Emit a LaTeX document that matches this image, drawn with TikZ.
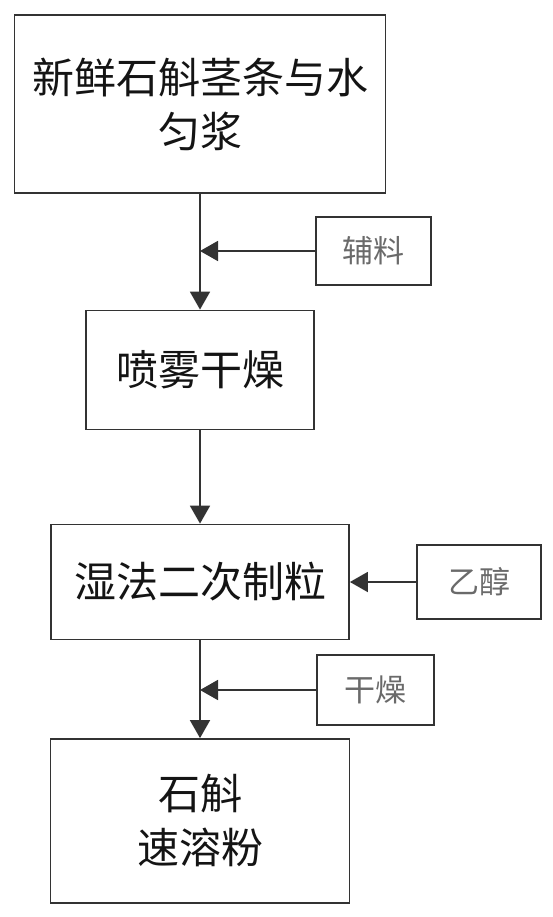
\documentclass[tikz,border=0pt]{standalone}
\usepackage{fontspec}
\newfontfamily\cjk{Noto Sans CJK SC}
\usetikzlibrary{arrows.meta}
\definecolor{lineC}{HTML}{333333}
\definecolor{mainT}{HTML}{141414}
\definecolor{sideT}{HTML}{6A6A6A}
\tikzset{
  mainbox/.style={draw=lineC, line width=1.8pt, rectangle, inner sep=0pt, align=center,
    text=mainT, font=\cjk\fontsize{42}{54}\selectfont},
  sidebox/.style={draw=lineC, line width=1.8pt, rectangle, inner sep=0pt, align=center,
    text=sideT, font=\cjk\fontsize{31}{34}\selectfont},
  flow/.style={draw=lineC, line width=1.8pt, -{Triangle[length=18pt,width=20pt]}}
}
\begin{document}
\begin{tikzpicture}[x=1pt,y=-1pt]
\useasboundingbox (0,0) rectangle (553,917);
\fill[white] (0,0) rectangle (553,917);
\node[mainbox, minimum width=371pt, minimum height=178pt] (b1) at (200,104) {新鲜石斛茎条与水\\匀浆};
\node[mainbox, minimum width=228pt, minimum height=119pt] (b2) at (200,370) {喷雾干燥};
\node[mainbox, minimum width=298pt, minimum height=115pt] (b3) at (200,582) {湿法二次制粒};
\node[mainbox, minimum width=299pt, minimum height=164pt] (b4) at (200,821) {石斛\\速溶粉};
\node[sidebox, minimum width=115pt, minimum height=68pt] (s1) at (373.5,251) {辅料};
\node[sidebox, minimum width=124pt, minimum height=74pt] (s2) at (479,582) {乙醇};
\node[sidebox, minimum width=117pt, minimum height=70pt] (s3) at (375.5,690) {干燥};
\draw[flow] (b1.south) -- (b2.north);
\draw[flow] (b2.south) -- (b3.north);
\draw[flow] (b3.south) -- (b4.north);
\draw[flow] (s1.west) -- (s1.west -| b1.south);
\draw[flow] (s2.west) -- (b3.east);
\draw[flow] (s3.west) -- (s3.west -| b3.south);
\end{tikzpicture}
\end{document}
